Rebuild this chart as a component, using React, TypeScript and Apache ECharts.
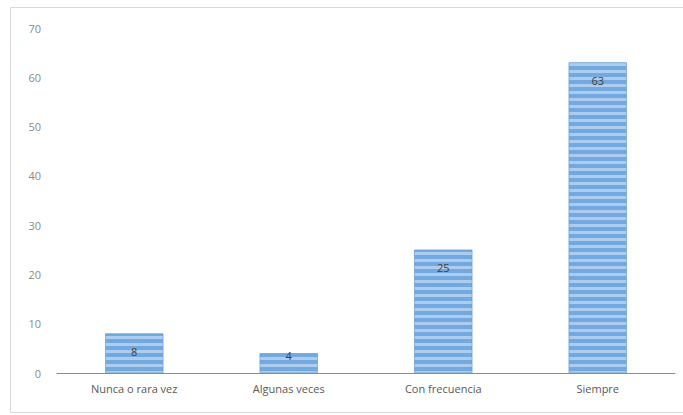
import React, { useEffect, useRef } from "react";
import * as echarts from "echarts";

const categories = ["Nunca o rara vez", "Algunas veces", "Con frecuencia", "Siempre"];
const values = [8, 4, 25, 63];
const yTicks = [0, 10, 20, 30, 40, 50, 60, 70];

export default function App() {
  const ref = useRef<HTMLDivElement>(null);
  useEffect(() => {
    if (!ref.current) return;
    const chart = echarts.init(ref.current, null, { renderer: "svg" });
    chart.setOption({
      animation: false,
      backgroundColor: "#ffffff",
      graphic: [
        {
          type: "rect",
          shape: { x: 10.5, y: 7.5, width: 690, height: 405 },
          style: { fill: "none", stroke: "#d9d9d9", lineWidth: 1 },
          silent: true,
        },
      ],
      grid: { left: 57, right: 8, top: 28, bottom: 42 },
      xAxis: {
        type: "category",
        data: categories,
        axisLine: { show: true, lineStyle: { color: "#8c8c8c", width: 1 } },
        axisTick: { show: false },
        axisLabel: {
          color: "#595959",
          fontSize: 11,
          fontFamily: "Open Sans",
          margin: 10,
        },
      },
      yAxis: {
        type: "value",
        min: yTicks[0],
        max: yTicks[yTicks.length - 1],
        interval: 10,
        axisLine: { show: false },
        axisTick: { show: false },
        splitLine: { show: false },
        axisLabel: {
          color: "#8a8a8a",
          fontSize: 11,
          fontFamily: "Open Sans",
          margin: 16,
        },
      },
      series: [
        {
          type: "bar",
          data: values.map((v) =>
            v < 6 ? { value: v, label: { position: "top", distance: -8 } } : v
          ),
          barWidth: 58,
          itemStyle: {
            color: "#74a9e0",
            borderColor: "#6a9fd6",
            borderWidth: 0.5,
            decal: {
              symbol: "rect",
              dashArrayX: [1, 0],
              dashArrayY: [3, 4],
              rotation: 0,
              color: "rgba(220,235,252,0.55)",
              symbolSize: 1,
            },
          },
          label: {
            show: true,
            position: "insideTop",
            distance: 12,
            color: "#404040",
            fontSize: 11,
            fontFamily: "Open Sans",
          },
        },
      ],
    });
    return () => chart.dispose();
  }, []);
  return (
    <div
      ref={ref}
      style={{ position: "absolute", left: 0, top: 0, width: 683, height: 415 }}
    />
  );
}
